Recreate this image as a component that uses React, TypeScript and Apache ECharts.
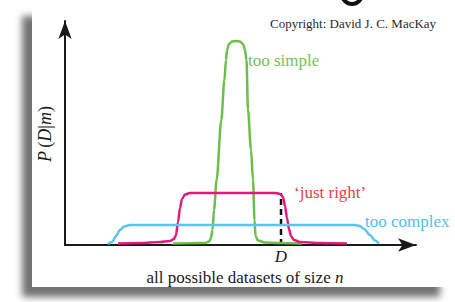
import React, { useEffect, useRef } from "react";
import * as echarts from "echarts";

// x: position along "all possible datasets" (arbitrary units), y: P(D|m) (arbitrary units)
const tooSimple: [number, number][] = [
  [108, 1.5], [135, 2], [140, 2], [144, 3.5], [146, 7], [147.5, 15], [149, 35], [151.6, 65],
  [156.3, 125], [159.4, 165], [161, 185], [162, 195], [164, 201], [167, 203.5], [171, 204],
  [175, 203.5], [178, 201], [180, 195], [181.5, 185], [183, 135], [186, 95], [188, 65],
  [189.5, 25], [190.5, 9], [193, 4.5], [200, 2.5], [215, 2], [237, 1.5],
];
const justRight: [number, number][] = [
  [53, 1.5], [75, 2], [95, 3], [105, 4], [109, 6], [111, 10], [113, 23], [115, 37], [117, 46],
  [120, 50.5], [125, 52], [165, 52], [211, 52], [215, 51], [218, 48], [220, 39], [222, 27],
  [224, 16], [226, 9], [229, 5], [235, 3], [255, 2], [282, 1.5],
];
const tooComplex: [number, number][] = [
  [43, 1], [47, 3], [51, 9], [55, 15], [59, 18.5], [65, 20], [135, 20], [290, 20], [295, 19],
  [299, 16], [305, 10], [310, 4.5], [314, 1.5],
];
const observedD: [number, number][] = [[216, 0], [216, 52]];

const seriesNames = ["too simple", "\u2018just right\u2019", "too complex"];
const seriesColors = ["#6cbf4a", "#e5197a", "#5cc5ea"];
const labelColors = ["#74c257", "#e2404a", "#52c0e8"];
const xTitle = "all possible datasets of size ";
const copyright = "Copyright: David J. C. MacKay";

const SERIF = "'Liberation Serif', 'DejaVu Serif', serif";

export default function App() {
  const ref = useRef<HTMLDivElement>(null);
  useEffect(() => {
    if (!ref.current) return;
    const chart = echarts.init(ref.current, undefined, { renderer: "svg" });
    const lineSeries = [tooSimple, justRight, tooComplex].map((d, i) => ({
      name: seriesNames[i],
      type: "line",
      data: d,
      smooth: 0.3,
      smoothMonotone: "x",
      showSymbol: false,
      symbol: "none",
      lineStyle: { color: seriesColors[i], width: 2.5 },
      z: 3 + i,
    }));
    chart.setOption({
      animation: false,
      backgroundColor: "#ffffff",
      grid: { left: 65, top: 21, right: 39, bottom: 57 },
      xAxis: {
        type: "value",
        min: 0,
        max: 351,
        axisLine: {
          show: true,
          onZero: false,
          symbol: ["none", "arrow"],
          symbolSize: [10, 18],
          lineStyle: { color: "#1a1a1a", width: 2 },
        },
        axisTick: { show: false },
        axisLabel: { show: false },
        splitLine: { show: false },
      },
      yAxis: {
        type: "value",
        min: 0,
        max: 224,
        axisLine: {
          show: true,
          onZero: false,
          symbol: ["none", "arrow"],
          symbolSize: [10, 18],
          lineStyle: { color: "#1a1a1a", width: 2 },
        },
        axisTick: { show: false },
        axisLabel: { show: false },
        splitLine: { show: false },
      },
      series: [
        ...lineSeries,
        {
          name: "D",
          type: "line",
          data: observedD,
          symbol: "none",
          lineStyle: { color: "#111", width: 2.5, type: [6, 4] },
          z: 2,
          markPoint: {
            symbol: "circle",
            symbolSize: 0,
            data: [{ coord: observedD[0], value: "D" }],
            label: {
              show: true,
              position: "bottom",
              distance: 3,
              formatter: "D",
              fontFamily: SERIF,
              fontStyle: "italic",
              fontSize: 17,
              color: "#1a1a1a",
            },
          },
        },
      ],
      graphic: [
        {
          type: "rect",
          z: -100,
          shape: { x: 32, y: 6, width: 418, height: 281 },
          style: {
            fill: "#ffffff",
            shadowBlur: 7,
            shadowOffsetX: -10,
            shadowOffsetY: 10,
            shadowColor: "rgba(0,0,0,0.55)",
          },
        },
        {
          type: "arc",
          shape: { cx: 352, cy: -6, r: 10, startAngle: 0, endAngle: Math.PI },
          style: { stroke: "#111", lineWidth: 4, fill: "none" },
        },
        {
          type: "text",
          x: 270,
          y: 23,
          style: {
            text: copyright,
            font: `13px ${SERIF}`,
            fill: "#2a2a2a",
            verticalAlign: "middle",
            align: "left",
          },
        },
        {
          type: "text",
          x: 248,
          y: 60,
          style: { text: seriesNames[0], font: `17px ${SERIF}`, fill: labelColors[0], verticalAlign: "middle" },
        },
        {
          type: "text",
          x: 294,
          y: 192,
          style: { text: seriesNames[1], font: `17px ${SERIF}`, fill: labelColors[1], verticalAlign: "middle" },
        },
        {
          type: "text",
          x: 365,
          y: 221,
          style: { text: seriesNames[2], font: `17px ${SERIF}`, fill: labelColors[2], verticalAlign: "middle" },
        },
        {
          type: "text",
          x: 245,
          y: 277,
          style: {
            text: `{r|${xTitle}}{i|n}`,
            align: "center",
            verticalAlign: "middle",
            rich: {
              r: { fontFamily: SERIF, fontSize: 17, fill: "#1a1a1a", color: "#1a1a1a" },
              i: { fontFamily: SERIF, fontSize: 17, fontStyle: "italic", fill: "#1a1a1a", color: "#1a1a1a" },
            },
          },
        },
        {
          type: "text",
          x: 45,
          y: 134,
          rotation: Math.PI / 2,
          style: {
            text: "{i|P} {r|(}{i|D}{r||}{i|m}{r|)}",
            align: "center",
            verticalAlign: "middle",
            rich: {
              r: { fontFamily: SERIF, fontSize: 18, fill: "#1a1a1a", color: "#1a1a1a" },
              i: { fontFamily: SERIF, fontSize: 18, fontStyle: "italic", fill: "#1a1a1a", color: "#1a1a1a" },
            },
          },
        },
      ],
    });
    return () => chart.dispose();
  }, []);
  return (
    <div
      ref={ref}
      style={{ position: "fixed", left: 0, top: 0, width: 455, height: 302, background: "#fff" }}
    />
  );
}
